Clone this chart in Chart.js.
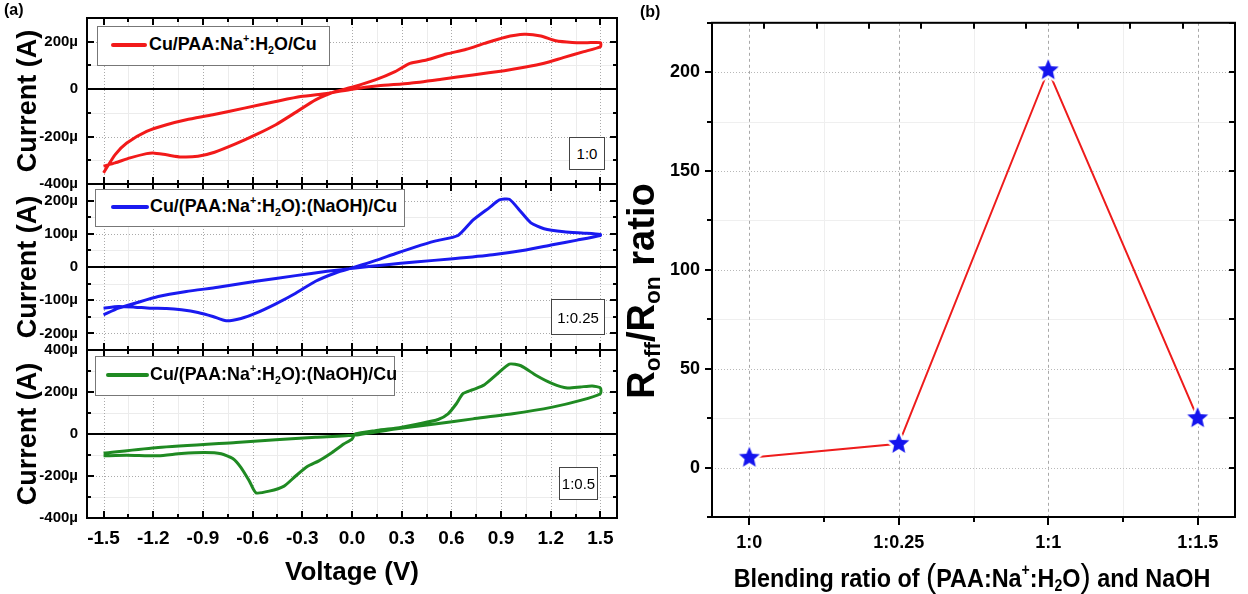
<!DOCTYPE html>
<html>
<head>
<meta charset="utf-8">
<script src="https://cdn.jsdelivr.net/npm/chart.js@4.4.1/dist/chart.umd.min.js"></script>
<style>
  body { margin: 0; background: #fff; }
  #page { position: relative; width: 1248px; height: 594px; overflow: hidden;
          font-family: 'Liberation Sans Narrow', 'Liberation Sans', sans-serif; color: #000; }
  canvas { position: absolute; top: 0; }
  .tag { position: absolute; font-weight: bold; font-size: 16px; }
  .legend { position: absolute; background: #fff; border: 1px solid #777; box-sizing: border-box; }
  .swatch { position: absolute; top: 50%; height: 4px; margin-top: -3px; border-radius: 2px; }
  .ltext { position: absolute; top: 50%; transform: translateY(-58%) scaleX(0.94); transform-origin: left center;
           font-weight: bold; font-size: 19px; white-space: nowrap; }
  .ratio { position: absolute; background: #fff; border: 1.5px solid #444; box-sizing: border-box;
           font-size: 15px; display: flex; align-items: center; justify-content: center; }
  sup, sub { font-size: 60%; line-height: 0; }
  sup { vertical-align: 0.75em; }
  sub { vertical-align: -0.3em; }
  #ytitle { position: absolute; left: 641px; top: 291px; transform: translate(-50%, -50%) rotate(-90deg);
            font-family: 'Liberation Sans', sans-serif; font-weight: bold; font-size: 38px; white-space: nowrap; }
  #xtitle { position: absolute; left: 972px; top: 575px; transform: translate(-50%, -50%) scaleX(0.9);
            font-weight: bold; font-size: 26px; white-space: nowrap; }
  #xtitle .big { font-size: 34px; font-weight: normal; }
</style>
</head>
<body>
<div id="page">
  <canvas id="cv1" width="630" height="594" style="left:0"></canvas>
  <canvas id="cv2" width="630" height="594" style="left:0"></canvas>
  <canvas id="cv3" width="630" height="594" style="left:0"></canvas>
  <canvas id="ratio" width="618" height="594" style="left:630px"></canvas>

  <div class="tag" style="left:4px;top:1px">(a)</div>
  <div class="tag" style="left:640px;top:3px">(b)</div>

  <div class="legend" style="left:97px;top:26px;width:233px;height:40px">
    <span class="swatch" id="sw1" style="left:13px;width:36px"></span>
    <span class="ltext" style="left:51px">Cu/PAA:Na<sup>+</sup>:H<sub>2</sub>O/Cu</span>
  </div>
  <div class="legend" style="left:95px;top:189px;width:310px;height:38px">
    <span class="swatch" id="sw2" style="left:15px;width:38px"></span>
    <span class="ltext" style="left:54px">Cu/(PAA:Na<sup>+</sup>:H<sub>2</sub>O):(NaOH)/Cu</span>
  </div>
  <div class="legend" style="left:95px;top:356px;width:300px;height:40px">
    <span class="swatch" id="sw3" style="left:10px;width:43px"></span>
    <span class="ltext" style="left:54px">Cu/(PAA:Na<sup>+</sup>:H<sub>2</sub>O):(NaOH)/Cu</span>
  </div>

  <div class="ratio" style="left:569px;top:137px;width:36px;height:33px">1:0</div>
  <div class="ratio" style="left:551px;top:299px;width:54px;height:36px">1:0.25</div>
  <div class="ratio" style="left:559px;top:467px;width:39px;height:33px">1:0.5</div>

  <div id="ytitle">R<sub>off</sub>/R<sub>on</sub> ratio</div>
  <div id="xtitle">Blending ratio of <span class="big">(</span>PAA:Na<sup>+</sup>:H<sub>2</sub>O<span class="big">)</span> and NaOH</div>
</div>

<script>
// voltage axis of panel (a)
const voltTicks = [-1.5, -1.2, -0.9, -0.6, -0.3, 0, 0.3, 0.6, 0.9, 1.2, 1.5];
const voltTickLabels = ['-1.5', '-1.2', '-0.9', '-0.6', '-0.3', '0.0', '0.3', '0.6', '0.9', '1.2', '1.5'];

// 1:0 sample, current in µA (forward sweep then return)
const redV = [-1.5, -1.43, -1.34, -1.24, -1.2, -1.12, -1.03, -0.93, -0.83, -0.7, -0.58, -0.46, -0.34, -0.22, -0.1, 0, 0.14, 0.26, 0.35, 0.45, 0.57, 0.69, 0.8, 0.92, 1.04, 1.14, 1.23, 1.33, 1.42, 1.5,
              1.5, 1.4, 1.28, 1.16, 1.04, 0.92, 0.73, 0.54, 0.35, 0.16, 0, -0.14, -0.31, -0.46, -0.65, -0.84, -1.0, -1.12, -1.24, -1.36, -1.43, -1.5];
const redI = [-325, -311, -290, -272, -269, -277, -286, -283, -266, -230, -192, -150, -98, -45, -10, 8, 39, 74, 109, 123, 148, 168, 193, 218, 231, 224, 204, 197, 196, 196,
              179, 158, 134, 109, 92, 78, 60, 42, 25, 14, 0, -17, -31, -52, -80, -108, -129, -150, -178, -227, -276, -353];

// 1:0.25 sample
const blueV = [-1.5, -1.41, -1.31, -1.22, -1.12, -1.03, -0.93, -0.84, -0.76, -0.67, -0.58, -0.46, -0.34, -0.22, -0.1, 0.02, 0.14, 0.26, 0.38, 0.5, 0.64, 0.73, 0.83, 0.89, 0.95, 1.01, 1.08, 1.16, 1.28, 1.4, 1.5,
               1.5, 1.36, 1.21, 1.05, 0.85, 0.61, 0.38, 0.21, 0.02, -0.15, -0.34, -0.58, -0.81, -1.0, -1.17, -1.31, -1.41, -1.5];
const blueI = [-124, -119, -121, -124, -125, -129, -137, -149, -162, -155, -139, -111, -79, -43, -18, 0, 19, 40, 60, 78, 95, 141, 179, 202, 204, 172, 133, 115, 106, 102, 98,
               95, 81, 67, 51, 37, 25, 15, 7, -3, -13, -26, -43, -61, -74, -89, -109, -124, -144];

// 1:0.5 sample
const greenV = [-1.5, -1.36, -1.17, -1.03, -0.89, -0.79, -0.72, -0.67, -0.62, -0.58, -0.5, -0.41, -0.34, -0.27, -0.2, -0.12, -0.05, 0, 0.02, 0.14, 0.26, 0.4, 0.52, 0.58, 0.63, 0.67, 0.73, 0.8, 0.88, 0.95, 1.02, 1.11, 1.21, 1.3, 1.38, 1.45, 1.5,
                1.5, 1.38, 1.21, 0.97, 0.73, 0.5, 0.26, 0.02, -0.22, -0.7, -1.17, -1.5];
const greenI = [-104, -101, -104, -93, -88, -94, -117, -160, -224, -280, -272, -248, -200, -155, -128, -88, -48, -24, 0, 16, 27, 48, 69, 96, 144, 192, 211, 235, 288, 333, 325, 280, 240, 219, 224, 229, 219,
                192, 160, 128, 96, 72, 48, 24, -5, -16, -40, -64, -91];

const cv1Ticks = [-400, -200, 0, 200];
const cv1Labels = ['-400µ', '-200µ', '0', '200µ'];
const cv2Ticks = [-200, -100, 0, 100, 200];
const cv2Labels = ['-200µ', '-100µ', '0', '100µ', '200µ'];
const cv3Ticks = [-400, -200, 0, 200, 400];
const cv3Labels = ['-400µ', '-200µ', '0', '200µ', '400µ'];

// panel (b)
const ratioCats = ['1:0', '1:0.25', '1:1', '1:1.5'];
const ratioVals = [5, 12, 201, 25];
const ratioTicks = [0, 50, 100, 150, 200];

const RED = '#f21a1a', BLUE = '#1a1af0', GREEN = '#1f8a22';
const NARROW = "'Liberation Sans Narrow', 'Liberation Sans', sans-serif";
Chart.defaults.color = '#000';

document.getElementById('sw1').style.background = RED;
document.getElementById('sw2').style.background = BLUE;
document.getElementById('sw3').style.background = GREEN;

function minorOf(vals, lo, hi) {
  const st = vals[1] - vals[0], out = [];
  for (let v = vals[0] - st / 2; v <= hi + 1e-9; v += st) {
    if (v >= lo - 1e-9) out.push(v);
  }
  return out;
}

// grid, zero line, frame and inward/outward ticks, origin style
function frameFor(spec) {
  return {
    id: 'frame',
    beforeDatasetsDraw(chart) {
      const {ctx, chartArea: a} = chart;
      const sx = chart.scales.x, sy = chart.scales.y;
      ctx.save();
      for (const g of spec.grid) {
        ctx.strokeStyle = g.color;
        ctx.lineWidth = 1;
        ctx.setLineDash(g.dash || []);
        for (const v of g.values) {
          ctx.beginPath();
          if (g.axis === 'x') {
            const p = Math.round(sx.getPixelForValue(v)) + 0.5;
            ctx.moveTo(p, a.top); ctx.lineTo(p, a.bottom);
          } else {
            const p = Math.round(sy.getPixelForValue(v)) + 0.5;
            ctx.moveTo(a.left, p); ctx.lineTo(a.right, p);
          }
          ctx.stroke();
        }
      }
      if (spec.zero) {
        ctx.setLineDash([]);
        ctx.strokeStyle = '#000';
        ctx.lineWidth = 2;
        const p = Math.round(sy.getPixelForValue(0));
        ctx.beginPath(); ctx.moveTo(a.left, p); ctx.lineTo(a.right, p); ctx.stroke();
      }
      ctx.restore();
    },
    afterDatasetsDraw(chart) {
      const {ctx, chartArea: a} = chart;
      const sx = chart.scales.x, sy = chart.scales.y;
      ctx.save();
      ctx.strokeStyle = '#000';
      ctx.lineWidth = 2;
      ctx.strokeRect(a.left, a.top, a.right - a.left, a.bottom - a.top);
      for (const t of spec.ticks) {
        const s = (t.side === 'left' || t.side === 'right') ? sy : sx;
        for (const v of t.values) {
          const p = Math.round(s.getPixelForValue(v));
          ctx.beginPath();
          if (t.side === 'left') {
            const d = t.out ? -1 : 1;
            ctx.moveTo(a.left, p); ctx.lineTo(a.left + d * t.len, p);
          } else if (t.side === 'right') {
            const d = t.out ? 1 : -1;
            ctx.moveTo(a.right, p); ctx.lineTo(a.right + d * t.len, p);
          } else if (t.side === 'top') {
            const d = t.out ? -1 : 1;
            ctx.moveTo(p, a.top); ctx.lineTo(p, a.top + d * t.len);
          } else {
            const d = t.out ? 1 : -1;
            ctx.moveTo(p, a.bottom); ctx.lineTo(p, a.bottom + d * t.len);
          }
          ctx.stroke();
        }
      }
      ctx.restore();
    }
  };
}

function cvChart(id, V, I, color, yMin, yMax, yTicks, yLabels, top, bottom, last) {
  const xMinor = minorOf(voltTicks, -1.6, 1.6);
  const yMinor = minorOf(yTicks, yMin, yMax);
  const frame = frameFor({
    grid: [
      {axis: 'x', values: xMinor, color: '#ececec'},
      {axis: 'y', values: yMinor, color: '#ececec'},
      {axis: 'x', values: voltTicks, color: '#aaaaaa', dash: [1, 2]},
      {axis: 'y', values: yTicks.filter(v => v !== 0), color: '#aaaaaa', dash: [1, 2]}
    ],
    zero: true,
    ticks: [
      {side: 'top', values: voltTicks, len: 7}, {side: 'top', values: xMinor, len: 4},
      {side: 'bottom', values: voltTicks, len: 7}, {side: 'bottom', values: xMinor, len: 4},
      {side: 'left', values: yTicks, len: 7}, {side: 'left', values: yMinor, len: 4},
      {side: 'right', values: yTicks, len: 7}, {side: 'right', values: yMinor, len: 4}
    ]
  });
  return new Chart(document.getElementById(id), {
    type: 'scatter',
    data: {
      datasets: [{
        data: V.map((v, i) => ({x: v, y: I[i]})),
        showLine: true,
        borderColor: color,
        borderWidth: 3,
        borderJoinStyle: 'round',
        pointRadius: 0,
        tension: 0.2
      }]
    },
    options: {
      responsive: false,
      animation: false,
      events: [],
      layout: {padding: {left: 0, right: 13, top: top, bottom: last ? 0 : 594 - bottom}},
      plugins: {legend: {display: false}, tooltip: {enabled: false}},
      scales: {
        x: {
          type: 'linear', min: -1.6, max: 1.6, display: last,
          grid: {display: false, drawTicks: false}, border: {display: false},
          afterBuildTicks: s => { s.ticks = voltTicks.map(v => ({value: v})); },
          afterFit: s => { if (last) s.height = 594 - bottom; },
          ticks: {callback: (v, i) => voltTickLabels[i], autoSkip: false, maxRotation: 0, padding: 9,
                  font: {family: NARROW, weight: 'bold', size: 19}},
          title: {display: true, text: 'Voltage (V)', padding: {top: 0, bottom: 6},
                  font: {family: NARROW, weight: 'bold', size: 26}}
        },
        y: {
          type: 'linear', min: yMin, max: yMax,
          grid: {display: false, drawTicks: false}, border: {display: false},
          afterBuildTicks: s => { s.ticks = yTicks.map(v => ({value: v})); },
          afterFit: s => { s.width = 87; },
          ticks: {callback: (v, i) => yLabels[i], autoSkip: false, padding: 9,
                  font: {family: NARROW, weight: 'bold', size: 15}},
          title: {display: true, text: 'Current (A)', padding: {top: 12, bottom: 0},
                  font: {family: "'Liberation Sans', sans-serif", weight: 'bold', size: 27}}
        }
      }
    },
    plugins: [frame]
  });
}

cvChart('cv1', redV, redI, RED, -400, 300, cv1Ticks, cv1Labels, 17, 184, false);
cvChart('cv2', blueV, blueI, BLUE, -250, 250, cv2Ticks, cv2Labels, 184, 350, false);
cvChart('cv3', greenV, greenI, GREEN, -400, 400, cv3Ticks, cv3Labels, 350, 518, true);

// filled five point star with a white rim, used as the point marker
function makeStar(r, color) {
  const c = document.createElement('canvas');
  const size = Math.ceil(r * 2 + 8);
  c.width = c.height = size;
  const g = c.getContext('2d');
  g.translate(size / 2, size / 2);
  g.beginPath();
  for (let k = 0; k < 10; k++) {
    const rad = k % 2 ? r * 0.45 : r;
    const ang = -Math.PI / 2 + k * Math.PI / 5;
    g.lineTo(rad * Math.cos(ang), rad * Math.sin(ang));
  }
  g.closePath();
  g.lineJoin = 'round';
  g.lineWidth = 5;
  g.strokeStyle = '#fff';
  g.stroke();
  g.fillStyle = color;
  g.fill();
  return c;
}

const catMinor = minorOf(ratioCats.map((c, i) => i), -0.25, 3.25);
const rMinor = minorOf(ratioTicks, -25, 225);
const topTicks = Array.from({length: 9}, (_, k) => 0.1 + 0.35 * k);

new Chart(document.getElementById('ratio'), {
  type: 'scatter',
  data: {
    datasets: [{
      data: ratioVals.map((v, i) => ({x: i, y: v})),
      showLine: true,
      borderColor: '#ee1c1c',
      borderWidth: 2,
      pointStyle: makeStar(11, '#1414ee'),
      pointRadius: 11,
      tension: 0
    }]
  },
  options: {
    responsive: false,
    animation: false,
    events: [],
    layout: {padding: {left: 0, right: 2, top: 17, bottom: 0}},
    plugins: {legend: {display: false}, tooltip: {enabled: false}},
    scales: {
      x: {
        type: 'linear', min: -0.25, max: 3.25,
        grid: {display: false, drawTicks: false}, border: {display: false},
        afterBuildTicks: s => { s.ticks = ratioCats.map((c, i) => ({value: i})); },
        afterFit: s => { s.height = 77; },
        ticks: {callback: (v, i) => ratioCats[i], autoSkip: false, maxRotation: 0, padding: 15,
                font: {family: NARROW, weight: 'bold', size: 18}}
      },
      y: {
        type: 'linear', min: -25, max: 225,
        grid: {display: false, drawTicks: false}, border: {display: false},
        afterBuildTicks: s => { s.ticks = ratioTicks.map(v => ({value: v})); },
        afterFit: s => { s.width = 82; },
        ticks: {autoSkip: false, padding: 12, font: {family: NARROW, weight: 'bold', size: 18}}
      }
    }
  },
  plugins: [frameFor({
    grid: [
      {axis: 'x', values: catMinor, color: '#efefef'},
      {axis: 'y', values: rMinor, color: '#efefef'},
      {axis: 'x', values: ratioCats.map((c, i) => i), color: '#a8a8a8', dash: [3, 3]},
      {axis: 'y', values: ratioTicks, color: '#b8b8b8', dash: [1, 2]}
    ],
    zero: false,
    ticks: [
      {side: 'left', values: ratioTicks, len: 7, out: true}, {side: 'left', values: rMinor, len: 5, out: true},
      {side: 'bottom', values: ratioCats.map((c, i) => i), len: 8, out: true}, {side: 'bottom', values: catMinor, len: 5, out: true},
      {side: 'top', values: topTicks, len: 6},
      {side: 'right', values: ratioTicks, len: 6}, {side: 'right', values: rMinor, len: 6}
    ]
  })]
});
</script>
</body>
</html>
